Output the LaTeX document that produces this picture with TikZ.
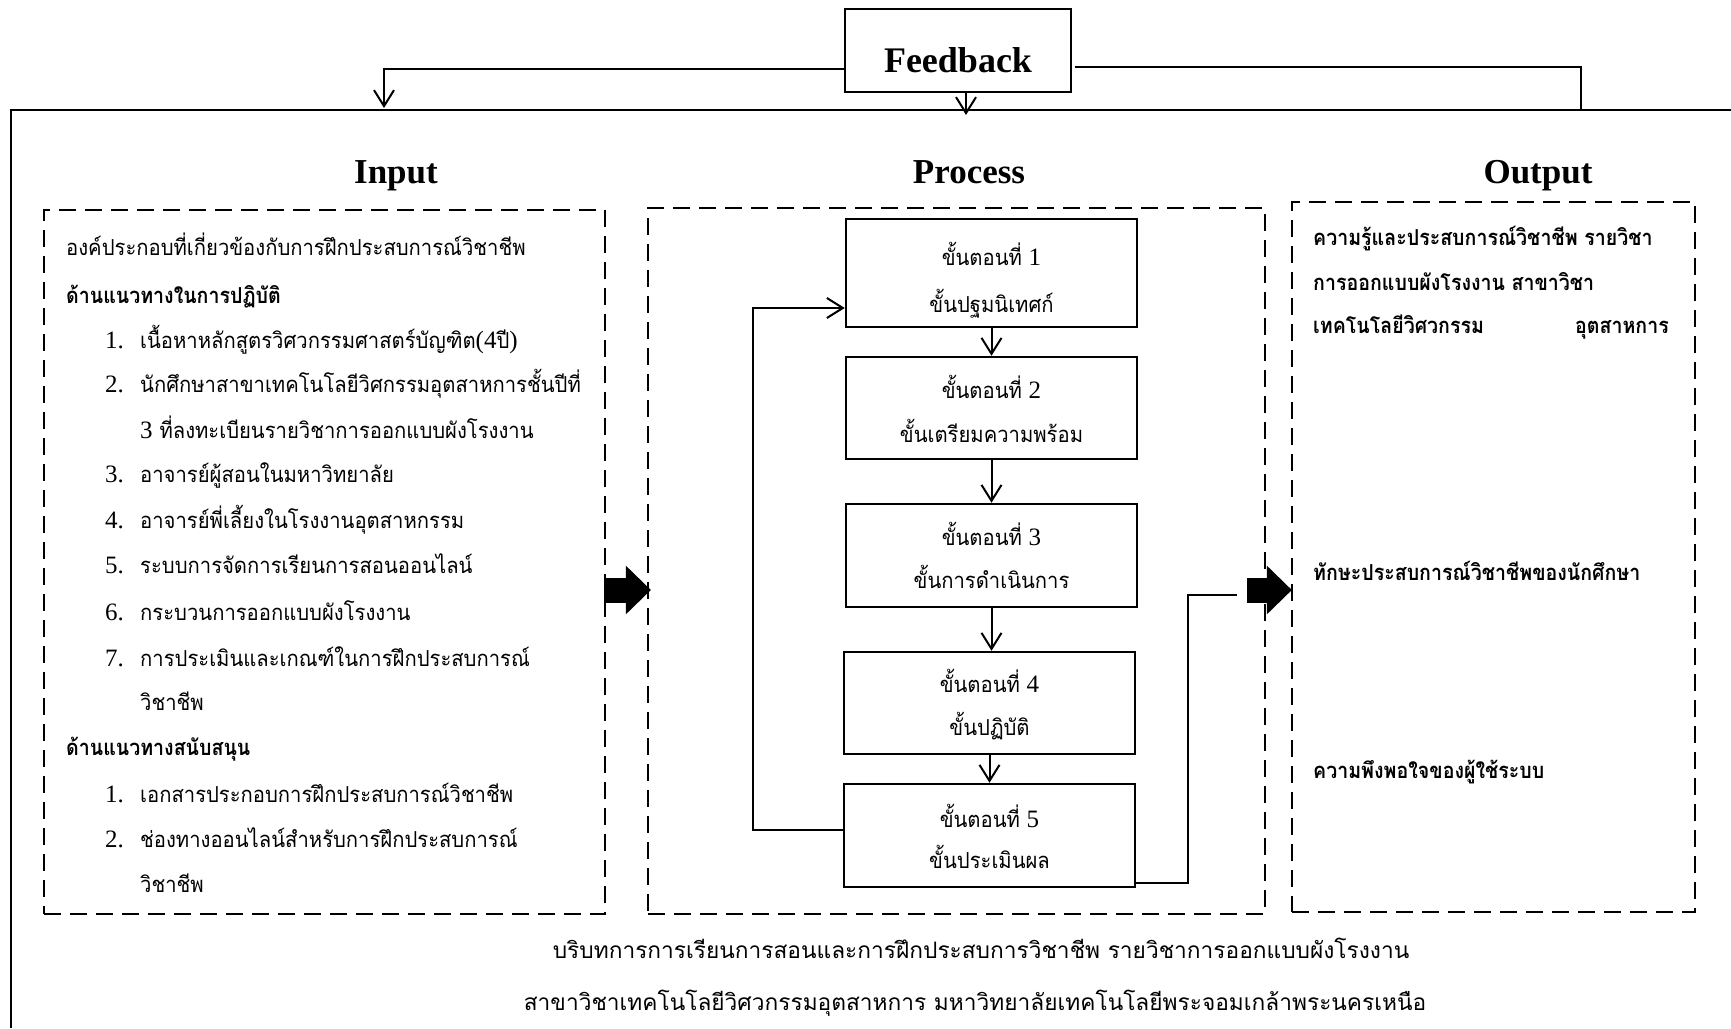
\documentclass[tikz,border=0pt]{standalone}
\usepackage{fontspec}
\setmainfont{Liberation Serif}
\newfontfamily\thaifont[Script=Thai, FakeStretch=0.92]{Loma}
\newfontfamily\thaibfont[Script=Thai, FakeStretch=0.89]{Loma}
\newfontfamily\thaiwide[Script=Thai]{Loma}
\usetikzlibrary{arrows.meta,calc}
\newcommand\dg[1]{{\rmfamily\fontsize{25}{25}\selectfont #1}}
\newcommand\thsize{22}
\begin{document}
\begin{tikzpicture}[x=1pt,y=-1pt,
  frame/.style={line width=2.8pt},
  dashbox/.style={draw, line width=2.2pt, dash pattern=on 17pt off 9pt, inner sep=0pt},
  stepbox/.style={draw, line width=2.5pt, minimum width=291pt, inner sep=0pt},
  fbbox/.style={draw, line width=1.2pt, minimum width=226pt, minimum height=83pt, inner sep=0pt},
  head/.style={font=\fontsize{35}{40}\selectfont\bfseries, inner sep=0pt, anchor=base},
  thai/.style={font=\thaifont\fontsize{\thsize}{\thsize}\selectfont, inner sep=0pt, anchor=base west},
  thaib/.style={thai, font=\thaibfont\fontsize{\thsize}{\thsize}\selectfont\bfseries},
  thaic/.style={thai, anchor=base},
  capt/.style={font=\thaiwide\fontsize{22.7}{23}\selectfont, inner sep=0pt, anchor=base},
  flow/.style={draw, line width=2pt, -{Straight Barb[length=16pt,width=20pt,line width=2pt]}},
  fat/.style={draw, line width=25pt, -{Triangle[length=25pt,width=47pt]}},
  plain/.style={draw, line width=2pt},
]
\useasboundingbox (0,0) rectangle (1731,1028);

% outer frame (open to the right and bottom)
\coordinate (ftl) at (11,110);
\draw[frame] (1731,110) -- (ftl) -- (11,1028);

% feedback box and its lines
\node[fbbox] (fb) at (958,50.5) {};
\node[font=\fontsize{36}{40}\selectfont\bfseries, inner sep=0pt, anchor=base] (fbt) at (958,72) {Feedback};
\coordinate (fl) at (384,108);
\coordinate (fm) at (966,115);
\coordinate (fr) at (1581,110);
\draw[flow, line width=2.8pt] ([yshift=-18.5pt]fb.west) -| (fl);
\draw[flow] ([xshift=8pt]fb.south) -- (fm);
\draw[line width=1.2pt] ([xshift=3pt,yshift=-16.5pt]fb.east) -| (fr);

% headings
\node[head] (hin) at (396,183) {Input};
\node[head] (hpr) at (969,183) {Process};
\node[head] (hout) at (1538,183) {Output};

% dashed containers
\node[dashbox, minimum width=561pt, minimum height=704pt] (inbox) at (324.5,562) {};
\node[dashbox, minimum width=617pt, minimum height=706pt] (procbox) at (956.5,561) {};
\node[dashbox, minimum width=403pt, minimum height=710pt] (outbox) at (1493.5,557) {};

% process steps
\node[stepbox, minimum height=108pt] (s1) at (991.5,273) {};
\node[stepbox, minimum height=102pt] (s2) at (991.5,408) {};
\node[stepbox, minimum height=103pt] (s3) at (991.5,555.5) {};
\node[stepbox, minimum height=102pt] (s4) at (989.5,703) {};
\node[stepbox, minimum height=103pt] (s5) at (989.5,835.5) {};

\draw[flow] (s1.south) -- (s1.south |- s2.north);
\draw[flow] (s2.south) -- (s2.south |- s3.north);
\draw[flow] (s3.south) -- (s3.south |- s4.north);
\draw[flow] (s4.south) -- (s4.south |- s5.north);
\draw[flow] ([yshift=5.5pt]s5.west) -- ++(-90,0) |- ([yshift=-35pt]s1.west);
\coordinate (oe) at (1237,595);
\draw[plain] ([yshift=-47.5pt]s5.east) -- ++(52,0) |- (oe);

% block arrows between the containers
\draw[fat, shorten >=-4pt] ([xshift=-2pt,yshift=-28pt]inbox.east) -- ([yshift=-29pt]procbox.west);
\draw[fat, shorten >=-1pt] ([xshift=-19pt,yshift=-29pt]procbox.east) -- ([yshift=-33pt]outbox.west);

% step labels
\node[thaic] (t1a) at (991.5,265) {ขั้นตอนที่ \dg{1}};
\node[thaic] (t1b) at (991.5,312) {ขั้นปฐมนิเทศก์};
\node[thaic] (t2a) at (991.5,398) {ขั้นตอนที่ \dg{2}};
\node[thaic] (t2b) at (991.5,442) {ขั้นเตรียมความพร้อม};
\node[thaic] (t3a) at (991.5,545) {ขั้นตอนที่ \dg{3}};
\node[thaic] (t3b) at (991.5,588) {ขั้นการดำเนินการ};
\node[thaic] (t4a) at (989.5,692) {ขั้นตอนที่ \dg{4}};
\node[thaic] (t4b) at (989.5,735) {ขั้นปฏิบัติ};
\node[thaic] (t5a) at (989.5,827) {ขั้นตอนที่ \dg{5}};
\node[thaic] (t5b) at (989.5,868) {ขั้นประเมินผล};

% input list
\node[thai] (i1) at (66,255) {องค์ประกอบที่เกี่ยวข้องกับการฝึกประสบการณ์วิชาชีพ};
\node[thaib] (i2) at (66,303) {ด้านแนวทางในการปฏิบัติ};
\node[thai] (n3) at (105,348) {\dg{1.}};
\node[thai] (i3) at (140,348) {เนื้อหาหลักสูตรวิศวกรรมศาสตร์บัญฑิต\dg{(4}ปี\dg{)}};
\node[thai] (n4) at (105,392) {\dg{2.}};
\node[thai] (i4) at (140,392) {นักศึกษาสาขาเทคโนโลยีวิศกรรมอุตสาหการชั้นปีที่};
\node[thai] (i5) at (140,438) {\dg{3} ที่ลงทะเบียนรายวิชาการออกแบบผังโรงงาน};
\node[thai] (n6) at (105,482) {\dg{3.}};
\node[thai] (i6) at (140,482) {อาจารย์ผู้สอนในมหาวิทยาลัย};
\node[thai] (n7) at (105,528) {\dg{4.}};
\node[thai] (i7) at (140,528) {อาจารย์พี่เลี้ยงในโรงงานอุตสาหกรรม};
\node[thai] (n8) at (105,573) {\dg{5.}};
\node[thai] (i8) at (140,573) {ระบบการจัดการเรียนการสอนออนไลน์};
\node[thai] (n9) at (105,620) {\dg{6.}};
\node[thai] (i9) at (140,620) {กระบวนการออกแบบผังโรงงาน};
\node[thai] (n10) at (105,666) {\dg{7.}};
\node[thai] (i10) at (140,666) {การประเมินและเกณฑ์ในการฝึกประสบการณ์};
\node[thai] (i11) at (140,710) {วิชาชีพ};
\node[thaib] (i12) at (66,755) {ด้านแนวทางสนับสนุน};
\node[thai] (n13) at (105,802) {\dg{1.}};
\node[thai] (i13) at (140,802) {เอกสารประกอบการฝึกประสบการณ์วิชาชีพ};
\node[thai] (n14) at (105,847) {\dg{2.}};
\node[thai] (i14) at (140,847) {ช่องทางออนไลน์สำหรับการฝึกประสบการณ์};
\node[thai] (i15) at (140,892) {วิชาชีพ};

% output list
\node[thaib] (o1) at (1313,245) {ความรู้และประสบการณ์วิชาชีพ รายวิชา};
\node[thaib] (o2) at (1313,290) {การออกแบบผังโรงงาน สาขาวิชา};
\node[thaib] (o3) at (1313,333) {เทคโนโลยีวิศวกรรม};
\node[thaib, anchor=base east] (o3b) at (1669,333) {อุตสาหการ};
\node[thaib] (o4) at (1313,580) {ทักษะประสบการณ์วิชาชีพของนักศึกษา};
\node[thaib] (o5) at (1313,778) {ความพึงพอใจของผู้ใช้ระบบ};

% context caption
\node[capt] (c1) at (981,958) {บริบทการการเรียนการสอนและการฝึกประสบการวิชาชีพ รายวิชาการออกแบบผังโรงงาน};
\node[capt] (c2) at (975,1010) {สาขาวิชาเทคโนโลยีวิศวกรรมอุตสาหการ มหาวิทยาลัยเทคโนโลยีพระจอมเกล้าพระนครเหนือ};
\end{tikzpicture}
\end{document}
